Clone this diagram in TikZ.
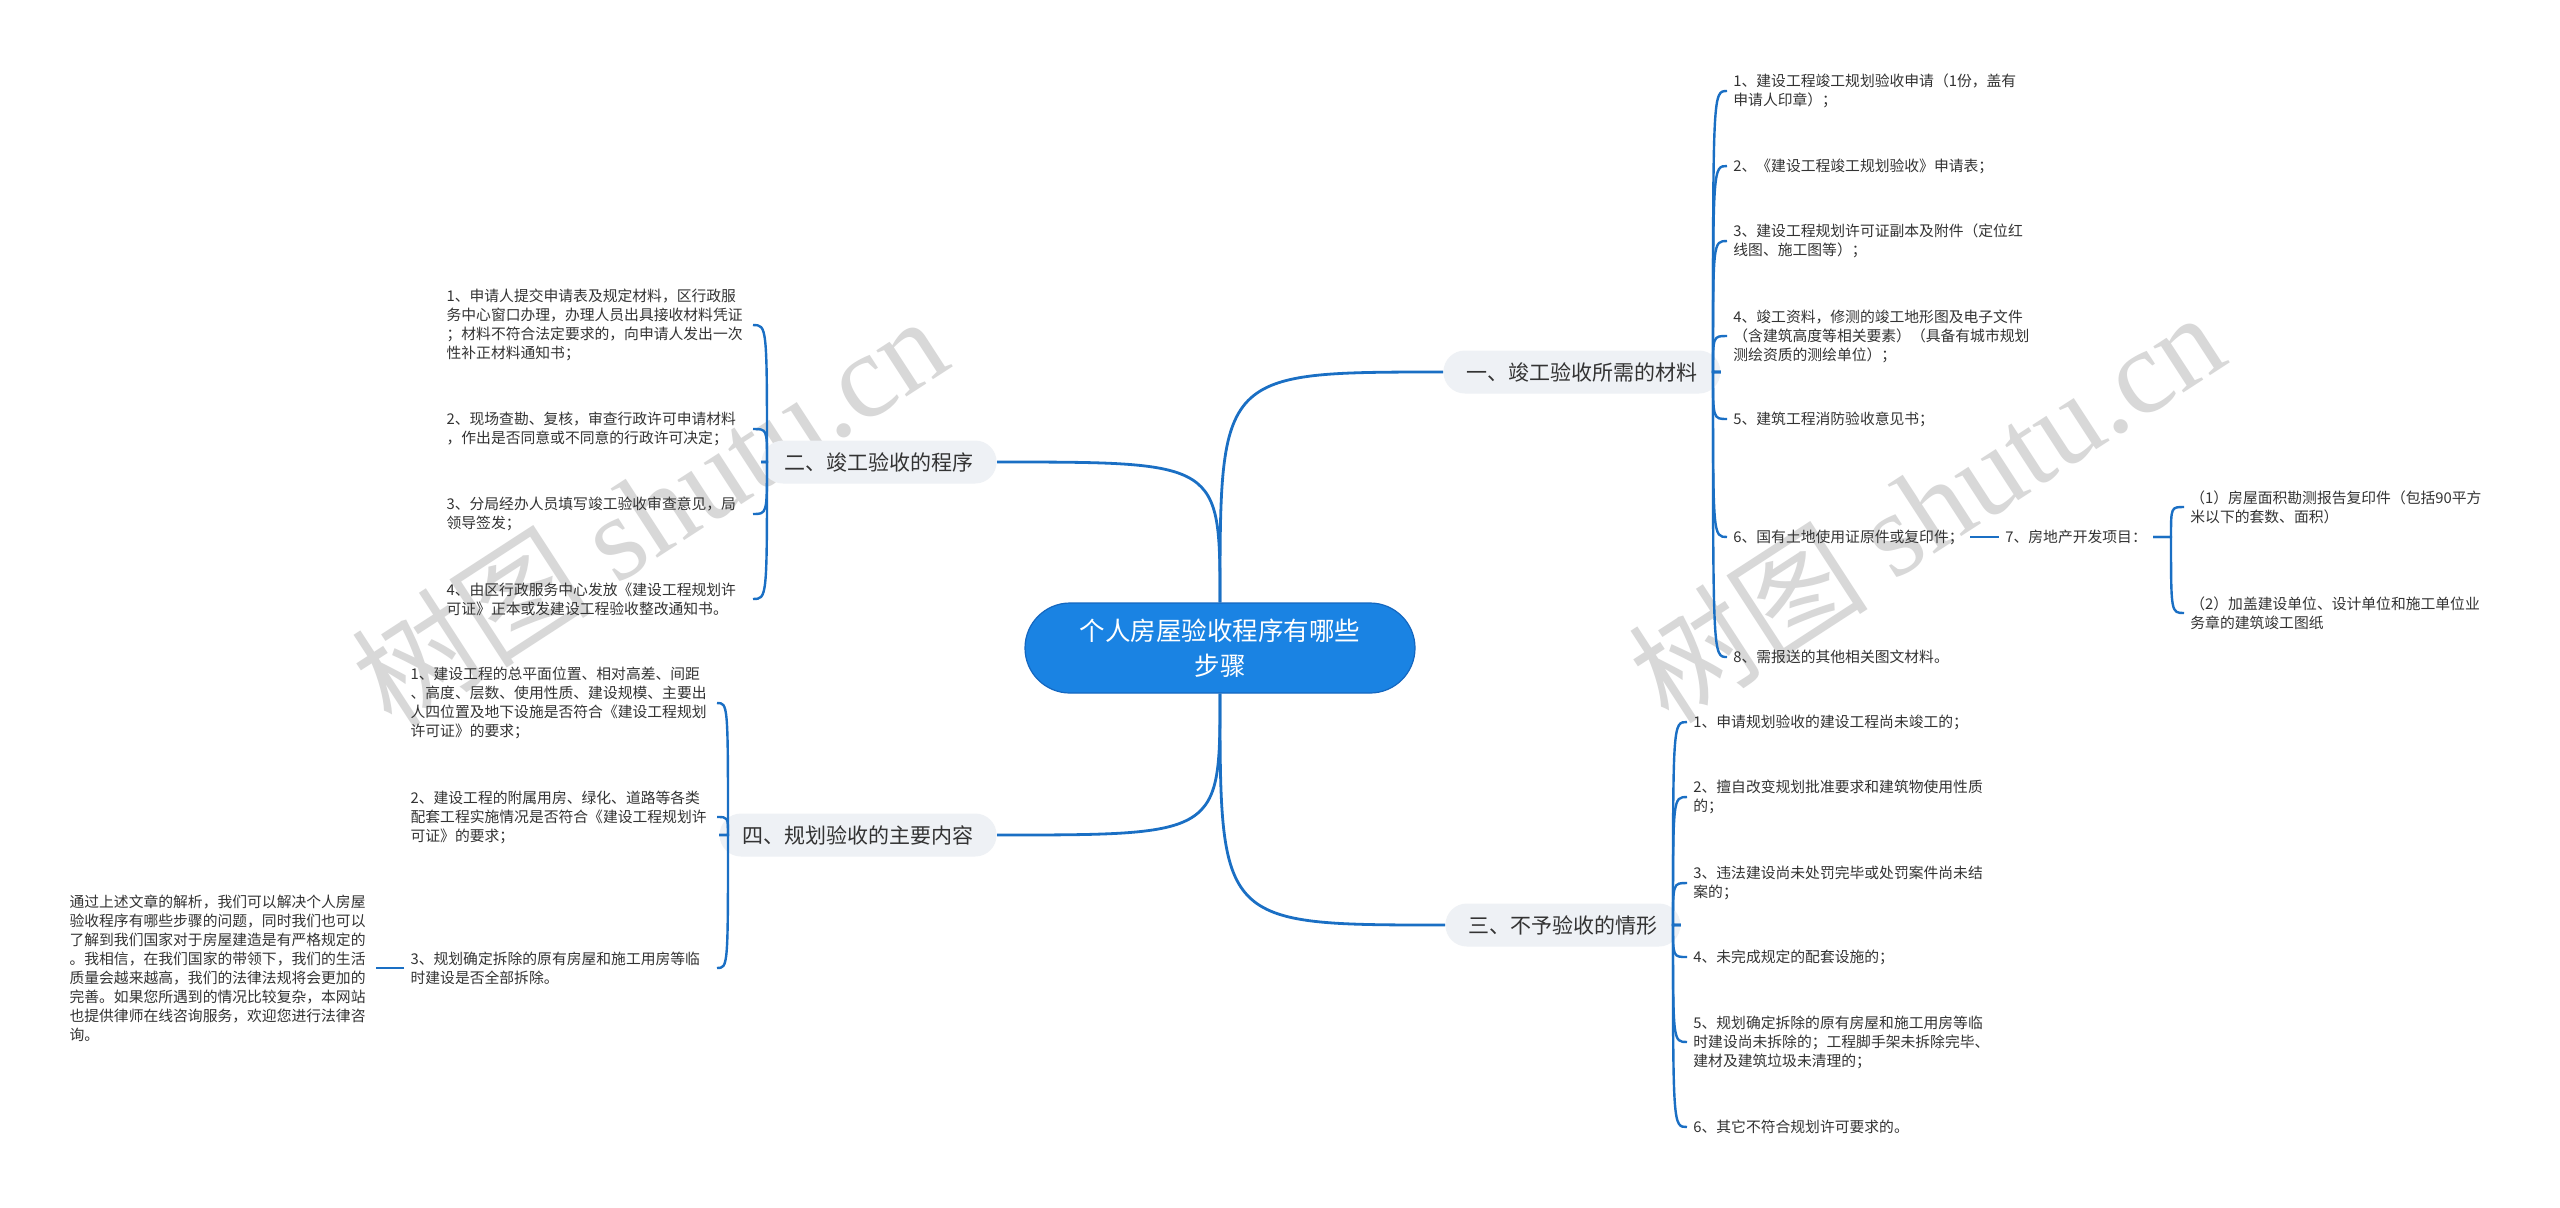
\documentclass[tikz,border=0pt]{standalone}
\usepackage{fontspec}
\setmainfont{Noto Sans CJK SC}
\newfontfamily\wmlatin{Liberation Serif}
\definecolor{lblue}{HTML}{1A6FC4}
\definecolor{rootblue}{HTML}{1A83E3}
\definecolor{rootedge}{HTML}{1467C0}
\definecolor{brfill}{HTML}{EEF1F5}
\definecolor{txt}{HTML}{333333}
\definecolor{wmgray}{HTML}{D8D8D8}
\begin{document}
\begin{tikzpicture}[x=0.5pt,y=-0.5pt,
  every node/.style={inner sep=0pt},
  leaf/.style={font=\fontsize{7.4pt}{9.5pt}\selectfont, text=txt, align=left, inner xsep=3pt, inner ysep=1pt},
  leafw/.style={leaf, text width=150pt},
  branch/.style={font=\fontsize{10.5pt}{12pt}\selectfont, fill=brfill, text=txt, rounded corners=10.75pt, minimum height=21.5pt, inner xsep=11.5pt},
  rootbox/.style={font=\fontsize{12.75pt}{17.5pt}\selectfont, fill=rootblue, draw=rootedge, line width=0.6pt, text=white, align=center, minimum width=195pt, minimum height=45pt, rounded corners=22.5pt},
  conn/.style={draw=lblue, line width=1.4pt},
  br/.style={draw=lblue, line width=1.2pt},
  wm/.style={text=wmgray, rotate=33, font=\fontsize{60pt}{60pt}\selectfont}
]
\useasboundingbox (0,0) rectangle (2560,1207);
\fill[white] (0,0) rectangle (2560,1207);

% watermarks
\node[wm] (w1) at (649,510) {树图 {\wmlatin shutu.cn}};
\node[wm] (w2) at (1926,506) {树图 {\wmlatin shutu.cn}};

% root and branches
\node[rootbox] (root) at (1220,648) {个人房屋验收程序有哪些\\步骤};
\node[branch, anchor=west] (b1) at (1443,372) {一、竣工验收所需的材料};
\node[branch, anchor=east] (b2) at (997,462) {二、竣工验收的程序};
\node[branch, anchor=west] (b3) at (1445,925) {三、不予验收的情形};
\node[branch, anchor=east] (b4) at (997,835) {四、规划验收的主要内容};

\draw[conn] (root.north) .. controls (root.north |- b1.west) .. (b1.west);
\draw[conn] (root.north) .. controls (root.north |- b2.east) .. (b2.east);
\draw[conn] (root.south) .. controls (root.south |- b3.west) .. (b3.west);
\draw[conn] (root.south) .. controls (root.south |- b4.east) .. (b4.east);

% branch 1 children
\coordinate (s1) at (1713,372);
\node[leaf, anchor=west] (a1) at (1727,91) {1、建设工程竣工规划验收申请（1份，盖有\\申请人印章）；};
\node[leaf, anchor=west] (a2) at (1727,166) {2、《建设工程竣工规划验收》申请表；};
\node[leaf, anchor=west] (a3) at (1727,241) {3、建设工程规划许可证副本及附件（定位红\\线图、施工图等）；};
\node[leaf, anchor=west] (a4) at (1727,336) {4、竣工资料，修测的竣工地形图及电子文件\\（含建筑高度等相关要素）（具备有城市规划\\测绘资质的测绘单位）；};
\node[leaf, anchor=west] (a5) at (1727,419) {5、建筑工程消防验收意见书；};
\node[leaf, anchor=west] (a6) at (1727,537) {6、国有土地使用证原件或复印件；};
\node[leaf, anchor=west] (a8) at (1727,657) {8、需报送的其他相关图文材料。};
\foreach \c in {a1,a2,a3,a4,a5,a6,a8}
  \draw[br] (b1.east) -- (s1) .. controls (s1 |- \c.west) .. (\c.west);

\node[leaf, anchor=west] (g7) at (1999,537) {7、房地产开发项目：};
\draw[br] (a6.east) -- (g7.west);
\coordinate (s7) at (2171,537);
\node[leaf, anchor=west] (d1) at (2184,507) {（1）房屋面积勘测报告复印件（包括90平方\\米以下的套数、面积）};
\node[leaf, anchor=west] (d2) at (2184,613) {（2）加盖建设单位、设计单位和施工单位业\\务章的建筑竣工图纸};
\foreach \c in {d1,d2}
  \draw[br] (g7.east) -- (s7) .. controls (s7 |- \c.west) .. (\c.west);

% branch 2 children
\coordinate (s2) at (767,462);
\node[leafw, anchor=east] (e1) at (753,325) {1、申请人提交申请表及规定材料，区行政服\\务中心窗口办理，办理人员出具接收材料凭证\\；材料不符合法定要求的，向申请人发出一次\\性补正材料通知书；};
\node[leafw, anchor=east] (e2) at (753,429) {2、现场查勘、复核，审查行政许可申请材料\\，作出是否同意或不同意的行政许可决定；};
\node[leafw, anchor=east] (e3) at (753,514) {3、分局经办人员填写竣工验收审查意见，局\\领导签发；};
\node[leafw, anchor=east] (e4) at (753,599) {4、由区行政服务中心发放《建设工程规划许\\可证》正本或发建设工程验收整改通知书。};
\foreach \c in {e1,e2,e3,e4}
  \draw[br] (b2.west) -- (s2) .. controls (s2 |- \c.east) .. (\c.east);

% branch 4 children
\coordinate (s4) at (728,835);
\node[leafw, anchor=east] (f1) at (717,703) {1、建设工程的总平面位置、相对高差、间距\\、高度、层数、使用性质、建设规模、主要出\\人四位置及地下设施是否符合《建设工程规划\\许可证》的要求；};
\node[leafw, anchor=east] (f2) at (717,817) {2、建设工程的附属用房、绿化、道路等各类\\配套工程实施情况是否符合《建设工程规划许\\可证》的要求；};
\node[leafw, anchor=east] (f3) at (717,968) {3、规划确定拆除的原有房屋和施工用房等临\\时建设是否全部拆除。};
\foreach \c in {f1,f2,f3}
  \draw[br] (b4.west) -- (s4) .. controls (s4 |- \c.east) .. (\c.east);

\node[leafw, anchor=east] (sum) at (376,968) {通过上述文章的解析，我们可以解决个人房屋\\验收程序有哪些步骤的问题，同时我们也可以\\了解到我们国家对于房屋建造是有严格规定的\\。我相信，在我们国家的带领下，我们的生活\\质量会越来越高，我们的法律法规将会更加的\\完善。如果您所遇到的情况比较复杂，本网站\\也提供律师在线咨询服务，欢迎您进行法律咨\\询。};
\draw[br] (f3.west) -- (sum.east);

% branch 3 children
\coordinate (s3) at (1673,925);
\node[leaf, anchor=west] (h1) at (1687,722) {1、申请规划验收的建设工程尚未竣工的；};
\node[leaf, anchor=west] (h2) at (1687,797) {2、擅自改变规划批准要求和建筑物使用性质\\的；};
\node[leaf, anchor=west] (h3) at (1687,883) {3、违法建设尚未处罚完毕或处罚案件尚未结\\案的；};
\node[leaf, anchor=west] (h4) at (1687,957) {4、未完成规定的配套设施的；};
\node[leaf, anchor=west] (h5) at (1687,1042) {5、规划确定拆除的原有房屋和施工用房等临\\时建设尚未拆除的；工程脚手架未拆除完毕、\\建材及建筑垃圾未清理的；};
\node[leaf, anchor=west] (h6) at (1687,1127) {6、其它不符合规划许可要求的。};
\foreach \c in {h1,h2,h3,h4,h5,h6}
  \draw[br] (b3.east) -- (s3) .. controls (s3 |- \c.west) .. (\c.west);
\end{tikzpicture}
\end{document}
